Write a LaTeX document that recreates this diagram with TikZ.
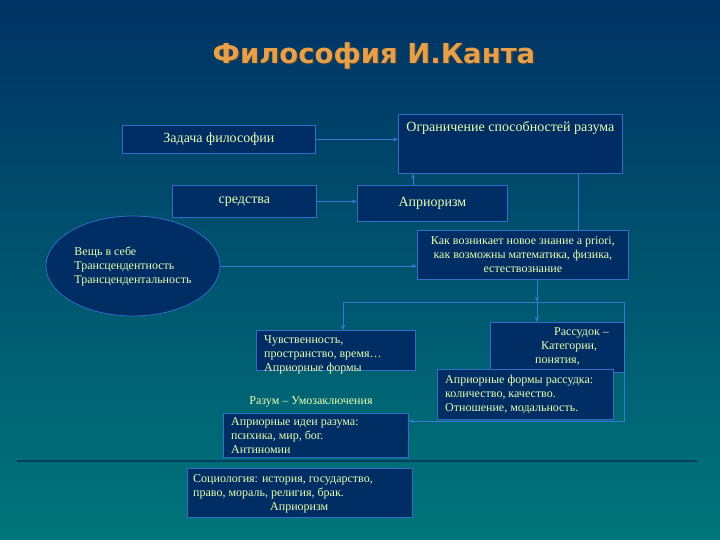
\documentclass[tikz,border=0pt]{standalone}
\usepackage{fontspec}
\setmainfont{Liberation Serif}
\newfontfamily\titlefont{DejaVu Sans}
\usetikzlibrary{arrows.meta,shapes.geometric,positioning}

\definecolor{bgtop}{RGB}{0,50,100}
\definecolor{bgmid}{RGB}{0,82,112}
\definecolor{bgbot}{RGB}{0,118,122}
\definecolor{boxfill}{RGB}{0,45,100}
\definecolor{boxline}{RGB}{50,110,200}
\definecolor{linkcol}{RGB}{60,120,210}
\definecolor{txtcol}{RGB}{232,255,175}
\definecolor{titlecol}{RGB}{232,160,72}
\definecolor{rulecol}{RGB}{10,62,92}

\begin{document}
\begin{tikzpicture}[x=1pt,y=-1pt,
  box/.style={draw=boxline, fill=boxfill, line width=0.8pt, inner sep=0pt, anchor=north west},
  txt/.style={text=txtcol, font=\fontsize{12}{14}\selectfont, align=left, inner sep=0pt},
  bigtxt/.style={text=txtcol, font=\fontsize{14}{16}\selectfont},
  link/.style={draw=linkcol, line width=0.8pt},
  arr/.style={link, -{Stealth[length=5pt,width=4pt]}}]

  % фон
  \useasboundingbox (0,0) rectangle (720,540);
  \shade[top color=bgtop, middle color=bgmid, bottom color=bgbot] (0,0) rectangle (720,540);

  % заголовок
  \node[font=\titlefont\bfseries\fontsize{27.5}{32}\selectfont, text=black!75] (titleshadow) at (375.5,57) {Философия И.Канта};
  \node[font=\titlefont\bfseries\fontsize{27.5}{32}\selectfont, text=titlecol] (title) at (374,55.5) {Философия И.Канта};

  % верхний ряд
  \node[box, minimum width=193, minimum height=28, bigtxt, yshift=-1pt] (task) at (122,124) {Задача философии};
  \node[box, minimum width=224, minimum height=59,
    label={[bigtxt, anchor=north, yshift=-4pt]north:Ограничение способностей разума}] (limit) at (398,114) {};
  \node[box, minimum width=144, minimum height=32, bigtxt] (means) at (172,185) {средства};
  \node[box, minimum width=150, minimum height=36, bigtxt] (apriori) at (357,185) {Априоризм};

  % эллипс
  \node[ellipse, draw=boxline, fill=boxfill, line width=0.8pt, minimum width=174, minimum height=100, txt] (thing) at (133,266)
    {Вещь в себе\\Трансцендентность\\Трансцендентальность};

  \node[box, minimum width=211, minimum height=49, txt, align=center] (how) at (417,230)
    {Как возникает новое знание a priori,\\как возможны математика, физика,\\естествознание};

  % средний ряд
  \node[box, minimum width=134, minimum height=50,
    label={[txt, anchor=north west, xshift=45pt, yshift=-5pt]north west:\hspace*{19pt}Рассудок --\\\hspace*{6pt}Категории,\\понятия,}] (reason) at (490,322) {};
  \node[box, minimum width=176, minimum height=50,
    label={[txt, anchor=north west, xshift=8pt, yshift=-6pt]north west:Априорные формы рассудка:\\количество, качество.\\Отношение, модальность.}] (formsr) at (437,369) {};
  \node[box, minimum width=159, minimum height=40,
    label={[txt, anchor=north west, xshift=8pt, yshift=-5pt]north west:Чувственность,\\пространство, время\dots\\Априорные формы}] (sense) at (256,330) {};

  \node[txt] (mind) at (311,402) {Разум -- Умозаключения};

  \node[box, minimum width=185, minimum height=44,
    label={[txt, anchor=north west, xshift=8pt, yshift=-4pt]north west:Априорные идеи разума:\\психика, мир, бог.\\Антиномии}] (ideas) at (223,413) {};

  % нижняя черта
  \draw[rulecol, line width=2pt] (17,461) -- (697,461);

  \node[box, minimum width=225, minimum height=49,
    label={[txt, anchor=north west, xshift=6pt, yshift=-6pt]north west:Социология: история, государство,\\право, мораль, религия, брак.\\\hspace*{77pt}Априоризм}] (socio) at (187,468) {};

  % связи
  \coordinate (fork) at (537,302);
  \coordinate (forkL) at (343,302);
  \coordinate (forkR) at (624,302);
  \coordinate (back) at (624,421);

  \draw[arr] (task.east) -- (task.east -| limit.west);
  \draw[arr] (means.east) -- (means.east -| apriori.west);
  \draw[arr] ([xshift=56pt]apriori.north west) -- ([xshift=56pt]apriori.north west |- limit.south);
  \draw[link] ([xshift=-44pt]limit.south east) -- ([xshift=-44pt]limit.south east |- how.north);
  \draw[arr] (thing.east) -- (thing.east -| how.west);
  \draw[arr] (how.south -| fork) -- (fork);
  \draw[arr] (fork) -- (fork |- reason.north);
  \draw[link] (forkL) -- (forkR);
  \draw[arr] (forkL) -- (forkL |- sense.north);
  \draw[arr] (forkR) -- (back) -- (back -| ideas.east);
\end{tikzpicture}
\end{document}
